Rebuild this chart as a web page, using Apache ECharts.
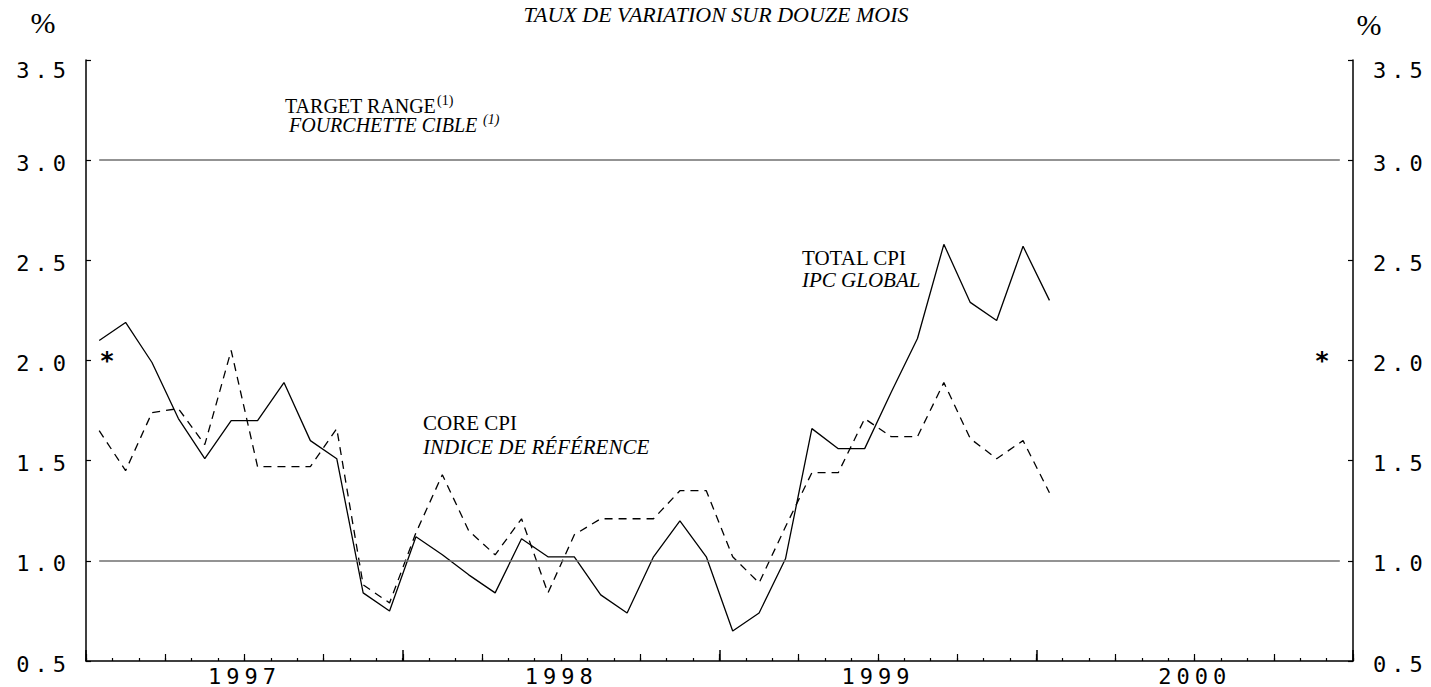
<!DOCTYPE html>
<html>
<head>
<meta charset="utf-8">
<style>
  html, body { margin: 0; padding: 0; background: #fff; }
  #chart { width: 1431px; height: 687px; }
  /* the axis digits in the original are widely spaced */
  #chart text[style*="Mono"] { letter-spacing: 5px; }
</style>
<script src="https://cdn.jsdelivr.net/npm/echarts@6/dist/echarts.min.js"></script>
</head>
<body>
<div id="chart"></div>
<script>
// years on the time axis
const years = ['1997', '1998', '1999', '2000'];
const quarters = [];
const months = [];
years.forEach(y => {
  for (let q = 1; q <= 4; q++) quarters.push(y + 'Q' + q);
  for (let m = 1; m <= 12; m++) months.push(y + '-' + (m < 10 ? '0' + m : m));
});

// 12-month % change, Jan 1997 .. Jan 2000
const totalCpi = [
  2.10, 2.19, 1.99, 1.71, 1.51, 1.70, 1.70, 1.89, 1.60, 1.51, 0.84, 0.75,
  1.12, 1.03, 0.93, 0.84, 1.11, 1.02, 1.02, 0.83, 0.74, 1.02, 1.20, 1.02,
  0.65, 0.74, 1.01, 1.66, 1.56, 1.56, 1.84, 2.11, 2.58, 2.29, 2.20, 2.57,
  2.30
];
const coreCpi = [
  1.65, 1.45, 1.74, 1.76, 1.58, 2.05, 1.47, 1.47, 1.47, 1.66, 0.88, 0.79,
  1.14, 1.43, 1.15, 1.03, 1.21, 0.84, 1.13, 1.21, 1.21, 1.21, 1.35, 1.35,
  1.02, 0.89, 1.17, 1.44, 1.44, 1.71, 1.62, 1.62, 1.89, 1.61, 1.51, 1.60,
  1.34
];
// target range bounds
const targetRange = [1.0, 3.0];

const monoFont = "'DejaVu Sans Mono', monospace";
const serifFont = "'Liberation Serif', 'Times New Roman', serif";

const chart = echarts.init(document.getElementById('chart'), null, { renderer: 'svg' });

function yLabel(v) {
  const s = v.toFixed(1);
  return v === 3.5 ? '{t|' + s + '}' : '{n|' + s + '}';
}
const yRich = {
  t: { fontFamily: monoFont, fontSize: 22, color: '#000', padding: [20, 0, 0, 0] },
  n: { fontFamily: monoFont, fontSize: 22, color: '#000', padding: [6, 0, 0, 0] }
};

function yAxis(pos, margin) {
  return {
    type: 'value', position: pos, min: 0.5, max: 3.5, interval: 0.5,
    axisLine: { show: true, lineStyle: { color: '#000', width: 1.5 } },
    axisTick: { show: true, inside: true, length: 5, lineStyle: { color: '#000', width: 1.2 } },
    splitLine: { show: false },
    axisLabel: { margin: margin, formatter: yLabel, rich: yRich }
  };
}

function refLine(v) {
  return [{ coord: [months[0], v] }, { coord: [months[totalCpi.length + 10], v] }];
}

const txt = (x, y, text, size, italic, align) => ({
  type: 'text', x: x, y: y, silent: true,
  style: {
    text: text, fill: '#000',
    font: (italic ? 'italic ' : '') + size + 'px ' + serifFont,
    textAlign: align || 'left', textVerticalAlign: 'middle'
  }
});

const option = {
  animation: false,
  backgroundColor: '#fff',
  grid: { left: 86, right: 78, top: 60, bottom: 25 },
  xAxis: [
    {
      type: 'category', data: months, position: 'bottom', boundaryGap: true,
      axisLine: { show: true, onZero: false, lineStyle: { color: '#000', width: 1.5 } },
      axisTick: { show: true, inside: true, length: 3, interval: 0, lineStyle: { color: '#000', width: 1.2 } },
      axisLabel: { show: false }
    },
    {
      type: 'category', data: quarters, position: 'bottom', boundaryGap: true,
      axisLine: { show: false, onZero: false },
      axisTick: { show: true, inside: true, length: 7, interval: 0, lineStyle: { color: '#000', width: 1.2 } },
      axisLabel: { show: false }
    },
    {
      type: 'category', data: years, position: 'bottom', boundaryGap: true,
      axisLine: { show: false, onZero: false },
      axisTick: { show: true, inside: true, length: 11, interval: 0, lineStyle: { color: '#000', width: 1.5 } },
      axisLabel: { show: true, interval: 0, margin: 4, color: '#000', fontFamily: monoFont, fontSize: 22 }
    }
  ],
  yAxis: [yAxis('left', 15), yAxis('right', 20)],
  series: [
    {
      name: 'TOTAL CPI', type: 'line', data: totalCpi, xAxisIndex: 0, yAxisIndex: 0,
      symbol: 'none', lineStyle: { color: '#000', width: 1.3 },
      markLine: {
        silent: true, symbol: 'none', label: { show: false },
        lineStyle: { color: '#6f6f6f', width: 1.5, type: 'solid' },
        data: targetRange.map(refLine)
      }
    },
    {
      name: 'CORE CPI', type: 'line', data: coreCpi, xAxisIndex: 0, yAxisIndex: 0,
      symbol: 'none', lineStyle: { color: '#000', width: 1.3, type: [8, 6] }
    }
  ],
  graphic: [
    txt(716, 14, 'TAUX DE VARIATION SUR DOUZE MOIS', 22, true, 'center'),
    txt(43, 22, '%', 30, false, 'center'),
    txt(1369, 24, '%', 30, false, 'center'),
    txt(285, 105.5, 'TARGET RANGE', 20, false),
    txt(437, 100, '(1)', 14, false),
    txt(289, 125, 'FOURCHETTE CIBLE', 20, true),
    txt(483, 119, '(1)', 14, true),
    txt(423, 422.5, 'CORE CPI', 21, false),
    txt(423, 447, 'INDICE DE RÉFÉRENCE', 21, true),
    txt(802, 257.5, 'TOTAL CPI', 21, false),
    txt(802, 280, 'IPC GLOBAL', 21, true),
    {
      type: 'text', x: 107, y: 360, silent: true,
      style: { text: '*', fill: '#000', font: "bold 25px 'DejaVu Sans'", textAlign: 'center', textVerticalAlign: 'middle' }
    },
    {
      type: 'text', x: 1322, y: 360, silent: true,
      style: { text: '*', fill: '#000', font: "bold 25px 'DejaVu Sans'", textAlign: 'center', textVerticalAlign: 'middle' }
    }
  ]
};

chart.setOption(option);
</script>
</body>
</html>
